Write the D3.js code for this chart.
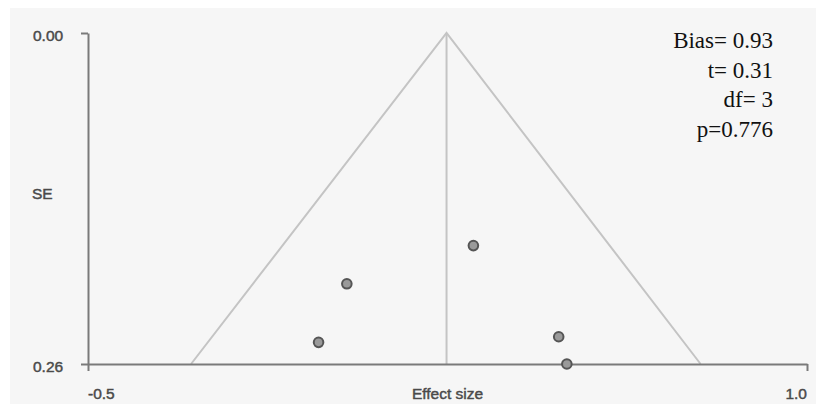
<!DOCTYPE html>
<html>
<head>
<meta charset="utf-8">
<script src="https://cdn.jsdelivr.net/npm/d3@7"></script>
<style>
  html, body { margin: 0; padding: 0; background: #ffffff; }
  svg { display: block; }
</style>
</head>
<body>
<script>
"use strict";

// study points
const effectSizes = [0.304, 0.040, -0.019, 0.482, 0.499];
const standardErrors = [0.167, 0.197, 0.243, 0.2386, 0.260];

// funnel: pooled estimate and limits at max SE
const pooledEffect = 0.248;
const funnelLower = -0.285;
const funnelUpper = 0.778;

const xTicks = [-0.5, 1.0];
const yTicks = [0.00, 0.26];
const statLines = ["Bias= 0.93", "t= 0.31", "df= 3", "p=0.776"];

(function()
{
	const width = 816, height = 411;
	const left = 88, right = 807, top = 33, bottom = 364;

	let svg = d3.select("body").append("svg")
		.attr("width", width)
		.attr("height", height);

	//panel background
	svg.append("rect")
		.attr("x", 10).attr("y", 8)
		.attr("width", width - 10).attr("height", 396)
		.attr("fill", "#f6f6f6");

	let x = d3.scaleLinear().domain([-0.5, 1.0]).range([left, right]);
	let y = d3.scaleLinear().domain([0, 0.26]).range([top, bottom]);

	//funnel
	let line = d3.line()
		.x(function(d) { return x(d[0]); })
		.y(function(d) { return y(d[1]); });
	svg.append("path")
		.attr("d", line([[funnelLower, 0.26], [pooledEffect, 0], [funnelUpper, 0.26]]))
		.attr("fill", "none")
		.attr("stroke", "#c4c4c4")
		.attr("stroke-width", 2);
	svg.append("path")
		.attr("d", line([[pooledEffect, 0], [pooledEffect, 0.26]]))
		.attr("fill", "none")
		.attr("stroke", "#c4c4c4")
		.attr("stroke-width", 2);

	//axes
	let yAxis = svg.append("g")
		.attr("transform", "translate(" + left + ",0)")
		.call(d3.axisLeft(y).tickValues(yTicks).tickSize(7).tickSizeOuter(0));
	let xAxis = svg.append("g")
		.attr("transform", "translate(0," + bottom + ")")
		.call(d3.axisBottom(x).tickValues(xTicks).tickSize(7).tickSizeOuter(0));
	[xAxis, yAxis].forEach(function(g) {
		g.selectAll("path, line").attr("stroke", "#7a7a7a").attr("stroke-width", 2);
		g.selectAll("text").remove();
	});

	//labels (slight stroke to mimic the heavier look of the original)
	let labels = svg.append("g")
		.attr("font-family", "'Liberation Sans', Arial, sans-serif")
		.attr("font-size", 15.5)
		.attr("fill", "#4a4a4a")
		.attr("stroke", "#4a4a4a")
		.attr("stroke-width", 0.45);
	labels.selectAll(".ylab").data(yTicks).enter().append("text")
		.attr("x", 33)
		.attr("y", function(d) { return y(d) + 7.5; })
		.text(d3.format(".2f"));
	labels.selectAll(".xlab").data(xTicks).enter().append("text")
		.attr("x", function(d) { return x(d); })
		.attr("y", bottom + 35)
		.attr("text-anchor", function(d, i) { return i === 0 ? "start" : "end"; })
		.text(function(d) { return d.toFixed(1); });
	labels.append("text")
		.attr("x", (left + right) / 2)
		.attr("y", bottom + 35)
		.attr("text-anchor", "middle")
		.text("Effect size");
	labels.append("text")
		.attr("x", 32)
		.attr("y", 199)
		.text("SE");

	//studies
	svg.selectAll(".pt").data(effectSizes).enter().append("circle")
		.attr("cx", function(d) { return x(d); })
		.attr("cy", function(d, i) { return y(standardErrors[i]); })
		.attr("r", 4.8)
		.attr("fill", "#9a9a9a")
		.attr("stroke", "#555555")
		.attr("stroke-width", 2);

	//Egger's test
	svg.selectAll(".stat").data(statLines).enter().append("text")
		.attr("x", 773)
		.attr("y", function(d, i) { return 48 + i * 29.7; })
		.attr("text-anchor", "end")
		.attr("font-family", "'Liberation Serif', 'Times New Roman', serif")
		.attr("font-size", 23)
		.attr("fill", "#111")
		.text(function(d) { return d; });
})();
</script>
</body>
</html>
